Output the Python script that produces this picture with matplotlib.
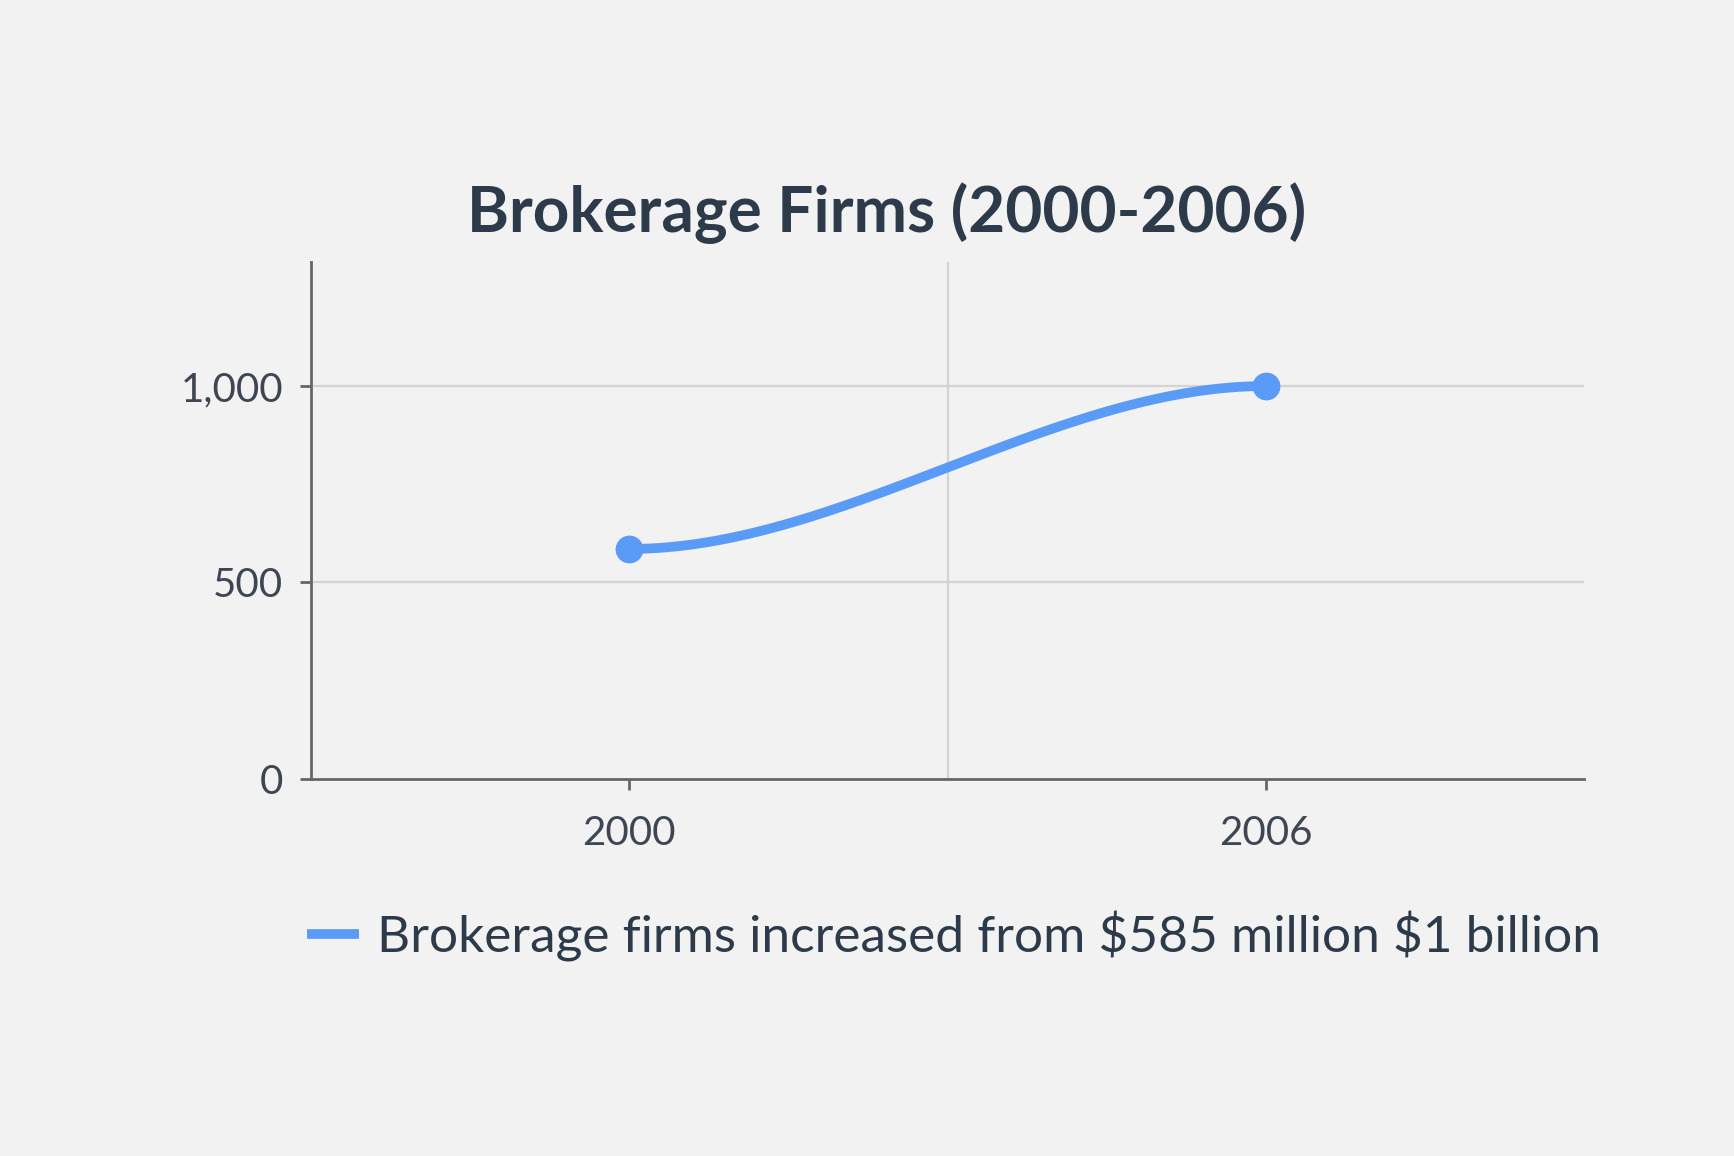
import matplotlib
matplotlib.use("Agg")
import matplotlib.pyplot as plt
import numpy as np

# ── Datos ────────────────────────────────────────────────────────────────────
years = ["2000", "2006"]
values = [585, 1000]
series_label = r"Brokerage firms increased from \$585 million \$1 billion"
title = "Brokerage Firms (2000-2006)"
y_ticks = [0, 500, 1000]
y_tick_labels = ["0", "500", "1,000"]

BG = "#f2f2f2"
LINE_C = "#5b9bf8"
TEXT_C = "#2c3a4a"
TICK_C = "#3d4652"
AXIS_C = "#666666"
GRID_C = "#d4d4d4"

plt.rcParams["font.family"] = ["Lato", "DejaVu Sans"]

fig = plt.figure(figsize=(17.34, 11.56), dpi=100, facecolor=BG)
ax = fig.add_axes([311 / 1734, 1 - 778.6 / 1156, (1584 - 311) / 1734,
                   (778.6 - 262) / 1156])
ax.set_facecolor(BG)

# curva suave (tangentes nulas en los extremos, como el trazo del original)
x = np.arange(len(values))
t = np.linspace(0, 1, 200)
h = 3 * t**2 - 2 * t**3
xs = x[0] + (x[1] - x[0]) * t
ys = values[0] + (values[1] - values[0]) * h
ax.plot(xs, ys, color=LINE_C, lw=7, solid_capstyle="round",
        label=series_label, zorder=3)
ax.plot(x, values, "o", color=LINE_C, ms=19, zorder=4)

ax.set_xlim(-0.5, 1.5)
ax.set_ylim(0, 1316)
ax.set_xticks(x)
ax.set_xticklabels(years)
ax.set_yticks(y_ticks)
ax.set_yticklabels(y_tick_labels)

for v in y_ticks[1:]:
    ax.axhline(v, color=GRID_C, lw=1.6, zorder=1)
ax.axvline(0.5, color=GRID_C, lw=1.6, zorder=1)

for side in ("top", "right"):
    ax.spines[side].set_visible(False)
for side in ("left", "bottom"):
    ax.spines[side].set_color(AXIS_C)
    ax.spines[side].set_linewidth(2)

ax.tick_params(axis="both", which="major", length=8, width=2, color=AXIS_C,
               labelcolor=TICK_C, labelsize=29)
ax.tick_params(axis="x", pad=18)
ax.tick_params(axis="y", pad=12)

fig.text(887 / 1734, 1 - 213 / 1156, title, ha="center", va="center",
         fontsize=46, fontweight="bold", color=TEXT_C)

leg = fig.legend(loc="center", bbox_to_anchor=(954 / 1734, 1 - 936 / 1156),
                 frameon=False, fontsize=37, handlelength=1.0,
                 handletextpad=0.35, labelcolor=TEXT_C)
for ln in leg.get_lines():
    ln.set_linewidth(7)
    ln.set_solid_capstyle("butt")

fig.savefig("out.png", dpi=100, facecolor=BG)
